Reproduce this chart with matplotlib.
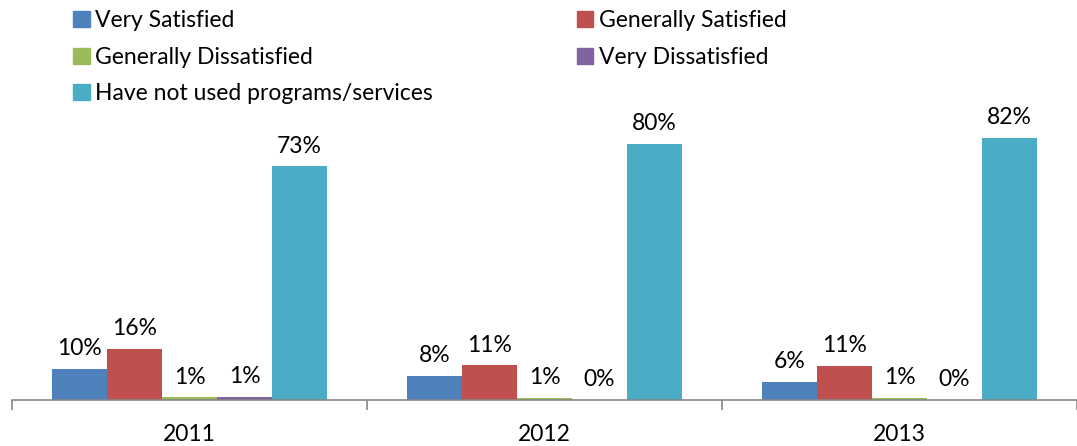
import numpy as np
import matplotlib
matplotlib.use("Agg")
import matplotlib.pyplot as plt
from matplotlib.patches import Patch

plt.rcParams['font.family'] = ['Lato', 'DejaVu Sans']

# data
years = ['2011', '2012', '2013']
series = ['Very Satisfied', 'Generally Satisfied', 'Generally Dissatisfied',
          'Very Dissatisfied', 'Have not used programs/services']
very_sat = [9.7, 7.6, 5.6]
gen_sat = [16.0, 10.8, 10.6]
gen_dis = [0.8, 0.7, 0.7]
very_dis = [1.0, 0.0, 0.0]
not_used = [73.0, 80.0, 82.0]
colors = ['#4F81BD', '#C0504D', '#9BBB59', '#8064A2', '#4BACC6']

values = [very_sat, gen_sat, gen_dis, very_dis, not_used]

fig = plt.figure(figsize=(10.77, 4.46), dpi=100)
ax = fig.add_axes([12 / 1077, 46 / 446, 1065 / 1077, 288 / 446])

x = np.arange(len(years))
w = 0.155
for k, (vals, c) in enumerate(zip(values, colors)):
    pos = x + (k - 2) * w
    ax.bar(pos, vals, width=w, color=c, linewidth=0)
    for p, v in zip(pos, vals):
        ax.annotate(f"{round(v):.0f}%", (p, v), xytext=(0, 7), textcoords='offset points',
                    ha='center', va='bottom', fontsize=16.5)

ax.set_xlim(-0.5, 2.5)
ax.set_ylim(0, 90)
for s in ['top', 'right', 'left']:
    ax.spines[s].set_visible(False)
ax.spines['bottom'].set_color('#868686')
ax.spines['bottom'].set_linewidth(1.2)
ax.set_yticks([])
ax.set_xticks(x)
ax.set_xticklabels(years, fontsize=16.5)
ax.tick_params(axis='x', which='major', length=0, pad=17)
ax.set_xticks([-0.5, 0.5, 1.5, 2.5], minor=True)
ax.tick_params(axis='x', which='minor', length=7, color='#868686', width=1.2)

handles = [Patch(color=c) for c in colors]
order = [0, 2, 4, 1, 3]
fig.legend([handles[i] for i in order], [series[i] for i in order],
           loc='upper left', bbox_to_anchor=(62 / 1077, 1.003), ncol=2, frameon=False,
           fontsize=16.5, handlelength=0.7, handleheight=0.7, handletextpad=0.25,
           labelspacing=0.68, columnspacing=6.3, borderaxespad=0.1)

fig.savefig('out.png', dpi=100)
